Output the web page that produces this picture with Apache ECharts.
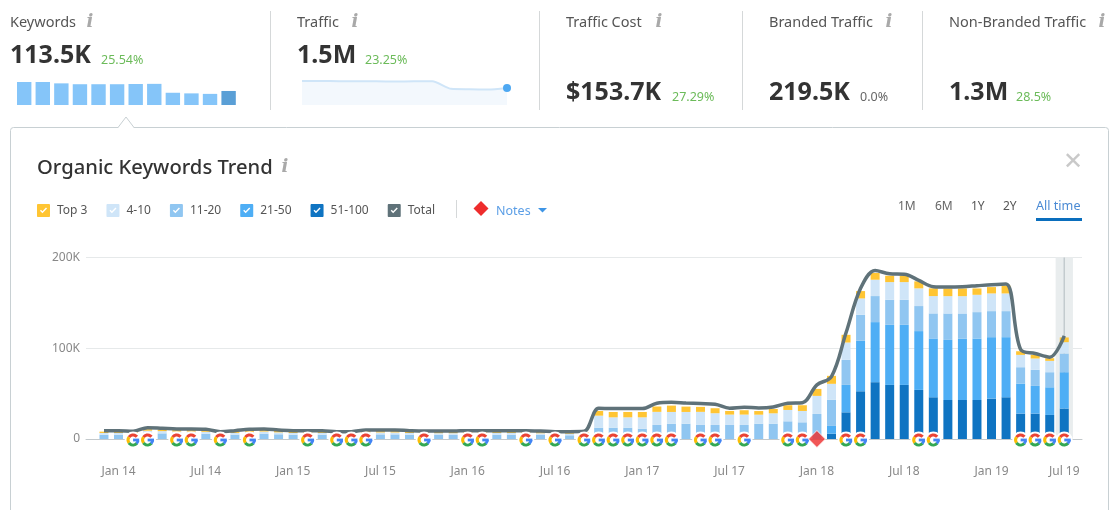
<!DOCTYPE html>
<html>
<head>
<meta charset="utf-8">
<style>html,body{margin:0;padding:0;background:#fff;overflow:hidden}#c{width:1114px;height:510px}</style>
<script src="https://cdn.jsdelivr.net/npm/echarts@6/dist/echarts.min.js"></script>
</head>
<body>
<div id="c"></div>
<script>
const categories = ['Dec 13','Jan 14','Feb 14','Mar 14','Apr 14','May 14','Jun 14','Jul 14','Aug 14','Sep 14','Oct 14','Nov 14','Dec 14',
 'Jan 15','Feb 15','Mar 15','Apr 15','May 15','Jun 15','Jul 15','Aug 15','Sep 15','Oct 15','Nov 15','Dec 15',
 'Jan 16','Feb 16','Mar 16','Apr 16','May 16','Jun 16','Jul 16','Aug 16','Sep 16','Oct 16','Nov 16','Dec 16',
 'Jan 17','Feb 17','Mar 17','Apr 17','May 17','Jun 17','Jul 17','Aug 17','Sep 17','Oct 17','Nov 17','Dec 17',
 'Jan 18','Feb 18','Mar 18','Apr 18','May 18','Jun 18','Jul 18','Aug 18','Sep 18','Oct 18','Nov 18','Dec 18',
 'Jan 19','Feb 19','Mar 19','Apr 19','May 19','Jul 19'];
const tickLabels = ['Jan 14','Jul 14','Jan 15','Jul 15','Jan 16','Jul 16','Jan 17','Jul 17','Jan 18','Jul 18','Jan 19','Jul 19'];
const top3 = [1.5,1.5,1.4,1.7,1.7,1.6,1.6,1.6,1.3,1.4,1.6,1.6,1.5,1.4,1.4,1.4,1.3,1.3,1.5,1.5,1.5,1.4,1.4,1.4,1.4,1.4,1.4,1.4,1.4,1.4,1.3,1.3,1.3,1.3,
 5.2,5.9,5.9,5.9,5.9,7,5.9,5.5,5.5,4,4.8,4,4.8,5.2,6.3,
 7.7,8.8,8.5,8.1,7.4,7,7,7.7,8.5,8.5,8.5,7,7,8.5,4,4,2.9,5.2];
const r4to10 = [2,2,1.9,2.6,2.5,2.3,2.3,2.2,1.7,1.9,2.2,2.3,2.1,1.9,1.9,1.9,1.7,1.7,2.1,2.1,2.1,1.9,1.9,1.9,1.9,1.9,1.9,1.9,1.9,1.9,1.8,1.7,1.7,1.8,
 13.2,11.4,11.4,12.5,14.4,12.9,12.9,14.4,12.9,11.4,11.4,9.9,11.4,12.5,12.5,
 19.9,17.7,19.1,18,18,19.5,19.5,19.5,19.1,19.1,19.1,19.1,19.5,19.5,13.6,12.5,12.5,12.5];
const r11to20 = [4.6,4.6,4.3,6.5,6.2,5.9,5.9,5.7,4.4,4.8,5.7,5.9,5.2,4.7,4.7,4.7,4.2,4.2,5.1,5.1,5.1,4.7,4.5,4.5,4.5,4.7,4.7,4.7,4.7,4.7,4.5,4.1,4.1,4.2,
 12.5,12.5,12.5,11.4,15.5,16.9,16.9,15.5,15.5,15.5,15.5,16.9,16.9,19.5,18.4,
 27.6,28.7,27.6,28.7,28.7,27.6,27.6,27.6,27.6,29.1,27.6,29.1,28.7,28.7,18,17.7,16.6,20.6];
const r21to50 = [0,0,0,0,0,0,0,0,0,0,0,0,0,0,0,0,0,0,0,0,0,0,0,0,0,0,0,0,0,0,0,0,0,0,
 0,0,0,0,0,0,0,0,0,0,0,0,0,0,0,
 0,8.5,30.2,55.6,66.2,66.2,66.2,64.8,64.8,66.2,67.7,67.7,67.7,66.2,33.1,30.5,30.5,40.1];
const r51to100 = [0,0,0,0,0,0,0,0,0,0,0,0,0,0,0,0,0,0,0,0,0,0,0,0,0,0,0,0,0,0,0,0,0,0,
 0,0,0,0,0,0,0,0,0,0,0,0,0,0,0,
 0,5.9,29.4,52.6,62.6,59.6,59.6,54.1,46,43,43,43,44.5,46,28,28,26.5,33.5];
const total = [9.2,9.2,8.5,12.5,11.8,11,11,10.7,8.1,9.2,10.7,11,9.9,9.2,9.2,9.2,8.1,8.1,9.9,9.9,9.9,9.2,8.8,8.8,8.8,9.2,9.2,9.2,9.2,9.2,8.8,8.1,8.1,8.5,
 33.9,33.5,33.5,33.5,39.4,40.5,39.7,39,38.3,33.9,35,34.2,35.3,39.4,40,
 59.6,68.8,117,166,185.8,182,181.6,174.8,167.8,167.4,167.8,168.9,170,170.8,98.6,94.2,90.2,113.7];
const googleUpdates = [2,3,5,6,8,10,14,16,17,18,22,25,26,29,31,33,34,35,36,37,38,39,41,42,44,47,48,51,52,56,57,63,64,65,66];
const noteMonths = [49];
const selectedMonth = [66];
const yTicks = [0,100,200];
const miniCategories = ['1','2','3','4','5','6','7','8','9','10','11','12'];
const keywordBars = [186,186,175,168,168,168,170,171,99,94,90,113.5];
const trafficLine = [2.12,2.11,2.10,2.09,2.08,2.07,2.08,2.08,1.42,1.38,1.36,1.5];
const rangeLabels = ['1M','6M','1Y','2Y','All time'];

const FONT = '"Noto Sans"';
const K = a => a.map(v => v * 1000);
const check = 'M2 0H22C23.1 0 24 .9 24 2V22C24 23.1 23.1 24 22 24H2C.9 24 0 23.1 0 22V2C0 .9 .9 0 2 0Z M5.5 12.5L10 17L18.5 8.5L16.6 6.6L10 13.2L7.4 10.6Z';
const bar = (name, data, color) => ({name, type:'bar', stack:'kw', xAxisIndex:0, yAxisIndex:0, barWidth:9, data:K(data), itemStyle:{color}, z:3, animation:false});

function gMark(params, api){
  const p = api.coord([api.value(0), 0]);
  const cx = p[0], cy = p[1] + 1, r = 5, w = 3;
  const arc = (a, b, c) => ({type:'arc', shape:{cx, cy, r, startAngle:a*Math.PI/180, endAngle:b*Math.PI/180, clockwise:true}, style:{stroke:c, fill:null, lineWidth:w}});
  return {type:'group', children:[
    {type:'circle', shape:{cx, cy, r:8.4}, style:{fill:'#fff'}},
    arc(-145,-40,'#ea4335'),
    arc(145,215,'#fbbc05'),
    arc(40,145,'#34a853'),
    arc(0,45,'#4285f4'),
    {type:'rect', shape:{x:cx, y:cy-1.4, width:r+1.4, height:2.8}, style:{fill:'#4285f4'}}
  ]};
}
function bandMark(params, api){
  const p = api.coord([api.value(0), 200000]);
  const b = api.coord([api.value(0), 0]);
  const w = api.size([1,0])[0] * 1.19;
  return {type:'group', children:[
    {type:'rect', shape:{x:p[0]-w/2, y:p[1], width:w, height:b[1]-p[1]}, style:{fill:'#e9edee'}},
    {type:'rect', shape:{x:p[0]-.75, y:p[1], width:1.5, height:b[1]-p[1]}, style:{fill:'#c3cbce'}}
  ]};
}

const txt = (text, x, y, size, color, weight) => ({type:'text', x, y:y+1.5, silent:true, style:{text, fontFamily:FONT, fontSize:size, fill:color, fontWeight:weight||400, verticalAlign:'middle', align:'left'}});
const info = (x, y) => ({type:'text', x, y, silent:true, style:{text:'i', fontFamily:'"DejaVu Serif"', fontSize:18, fontStyle:'italic', fontWeight:700, fill:'#a9a9a9', verticalAlign:'middle', align:'center'}});
const vsep = x => ({type:'rect', x, y:11, silent:true, shape:{width:1, height:99}, style:{fill:'#d5d8d9'}});

const graphics = [
  {type:'rect', silent:true, z:-10, shape:{x:10.5,y:127.5,width:1098,height:420,r:3}, style:{fill:'#fff',stroke:'#c8d0d3',lineWidth:1}},
  {type:'polygon', silent:true, z:-9, shape:{points:[[118,128],[126,117],[134,128]]}, style:{fill:'#fff'}},
  {type:'polyline', silent:true, z:-9, shape:{points:[[118,127.5],[126,117],[134,127.5]]}, style:{stroke:'#c8d0d3',fill:null,lineWidth:1}},
  vsep(270), vsep(539), vsep(742), vsep(922),
  txt('Keywords',10,21,14.5,'#555'), info(90,22),
  txt('113.5K',10,54,25,'#333',700), txt('25.54%',101,59,12.5,'#6cbb5a'),
  txt('Traffic',297,21,14.5,'#555'), info(355,22),
  txt('1.5M',297,54,25,'#333',700), txt('23.25%',365,59,12.5,'#6cbb5a'),
  txt('Traffic Cost',566,21,14.5,'#555'), info(659,22),
  txt('$153.7K',566,91,25,'#333',700), txt('27.29%',672,96,12.5,'#6cbb5a'),
  txt('Branded Traffic',769,21,14.5,'#555'), info(889,22),
  txt('219.5K',769,91,25,'#333',700), txt('0.0%',860,96,12.5,'#666'),
  txt('Non-Branded Traffic',949,21,14.5,'#555'), info(1102,22),
  txt('1.3M',949,91,25,'#333',700), txt('28.5%',1016,96,12.5,'#6cbb5a'),
  txt('Organic Keywords Trend',37,167,20.2,'#333',500), info(285,167),
  {type:'text', x:1073, y:163, silent:true, style:{text:'✕', fontFamily:'"DejaVu Sans"', fontSize:24, fontWeight:700, fill:'#c9c9c9', align:'center', verticalAlign:'middle'}},
  {type:'rect', silent:true, shape:{x:456,y:200,width:1,height:18}, style:{fill:'#d5d8d9'}},
  {type:'polygon', silent:true, shape:{points:[[481,201],[488.5,208.5],[481,216],[473.5,208.5]]}, style:{fill:'#ee2c2c'}},
  txt('Notes',496,209.5,12.5,'#5b9ee6'),
  {type:'polygon', silent:true, shape:{points:[[538,208],[547,208],[542.5,212.5]]}, style:{fill:'#3e95e6'}},
  txt(rangeLabels[0],898,205,12,'#666'),
  txt(rangeLabels[1],935,205,12,'#666'),
  txt(rangeLabels[2],971,205,12,'#555'),
  txt(rangeLabels[3],1003,205,12,'#555'),
  txt(rangeLabels[4],1036,205,12.6,'#4a8ad4'),
  {type:'rect', silent:true, shape:{x:1036,y:218,width:46,height:3}, style:{fill:'#0a6ebd'}}
];

const chart = echarts.init(document.getElementById('c'), null, {renderer:'canvas', width:1114, height:510});
chart.setOption({
  animation:false,
  backgroundColor:'#fff',
  textStyle:{fontFamily:FONT},
  graphic:{elements:graphics},
  legend:{
    left:37, top:204, padding:0, itemWidth:13, itemHeight:13, itemGap:19, selectedMode:false,
    textStyle:{fontFamily:FONT, fontSize:12, color:'#555', padding:[0,0,0,2]},
    data:['Top 3','4-10','11-20','21-50','51-100','Total'].map(name => ({name, icon:'path://'+check}))
  },
  grid:[
    {left:96.7, top:257.5, width:974.85, height:181.5},
    {left:86, top:257.5, width:996, height:181.5},
    {left:14.9, top:82, width:223, height:23},
    {left:302, top:80, width:205, height:25}
  ],
  xAxis:[
    {type:'category', gridIndex:0, data:categories, axisLine:{show:false}, axisTick:{show:false},
     axisLabel:{interval:(i,v)=>tickLabels.includes(v), margin:27, fontFamily:FONT, fontSize:12, color:'#888'}},
    {type:'value', gridIndex:1, min:0, max:1, axisLine:{show:true,lineStyle:{color:'#c3c9cc',width:1}}, axisTick:{show:false}, axisLabel:{show:false}, splitLine:{show:false}},
    {type:'category', gridIndex:2, data:miniCategories, show:false},
    {type:'category', gridIndex:3, data:miniCategories, show:false, boundaryGap:false}
  ],
  yAxis:[
    {type:'value', gridIndex:0, min:0, max:200000, show:false},
    {type:'value', gridIndex:1, min:yTicks[0]*1000, max:yTicks[2]*1000, interval:100000, axisLine:{show:false}, axisTick:{show:false},
     splitLine:{lineStyle:{color:'#e6e9ea',width:1}},
     axisLabel:{margin:6, padding:[3,0,0,0], fontFamily:FONT, fontSize:12, color:'#888', formatter:v=>v===0?'0':(v/1000)+'K'}},
    {type:'value', gridIndex:2, min:0, max:186, show:false},
    {type:'value', gridIndex:3, min:0, max:2.2, show:false}
  ],
  series:[
    {name:'selected', type:'custom', xAxisIndex:0, yAxisIndex:0, data:selectedMonth.map(i=>[i]), renderItem:bandMark, encode:{x:0}, z:1, silent:true, animation:false},
    bar('51-100', r51to100, '#0f74c2'),
    bar('21-50', r21to50, '#4eaef5'),
    bar('11-20', r11to20, '#90c6f1'),
    bar('4-10', r4to10, '#cfe5f8'),
    bar('Top 3', top3, '#ffc533'),
    {name:'Total', type:'line', xAxisIndex:0, yAxisIndex:0, data:K(total), smooth:0.35, symbol:'none', z:5,
     itemStyle:{color:'#5f7279'}, lineStyle:{color:'#5f7279',width:3.5}},
    {name:'Google', type:'custom', xAxisIndex:0, yAxisIndex:0, data:googleUpdates.map(i=>[i]), renderItem:gMark, encode:{x:0}, z:6, silent:true, clip:false},
    {name:'Notes', type:'scatter', xAxisIndex:0, yAxisIndex:0, data:noteMonths.map(i=>[i,0]), symbol:'diamond', symbolSize:[17,17],
     itemStyle:{color:'#ee2c2c', borderColor:'#fff', borderWidth:1}, z:7, clip:false},
    {name:'Keywords mini', type:'bar', xAxisIndex:2, yAxisIndex:2, data:keywordBars, barWidth:14.4,
     itemStyle:{color:p=>p.dataIndex===11?'#5a9fd6':'#85c5f9'}},
    {name:'Traffic mini', type:'line', xAxisIndex:3, yAxisIndex:3, data:trafficLine, smooth:0.2,
     symbol:(v,p)=>p.dataIndex===11?'circle':'none', symbolSize:8, showAllSymbol:true,
     itemStyle:{color:'#4ea8f2'}, lineStyle:{color:'#cfe5f8',width:2}, areaStyle:{color:'#f3f8fd',opacity:1}}
  ]
});
</script>
</body>
</html>
